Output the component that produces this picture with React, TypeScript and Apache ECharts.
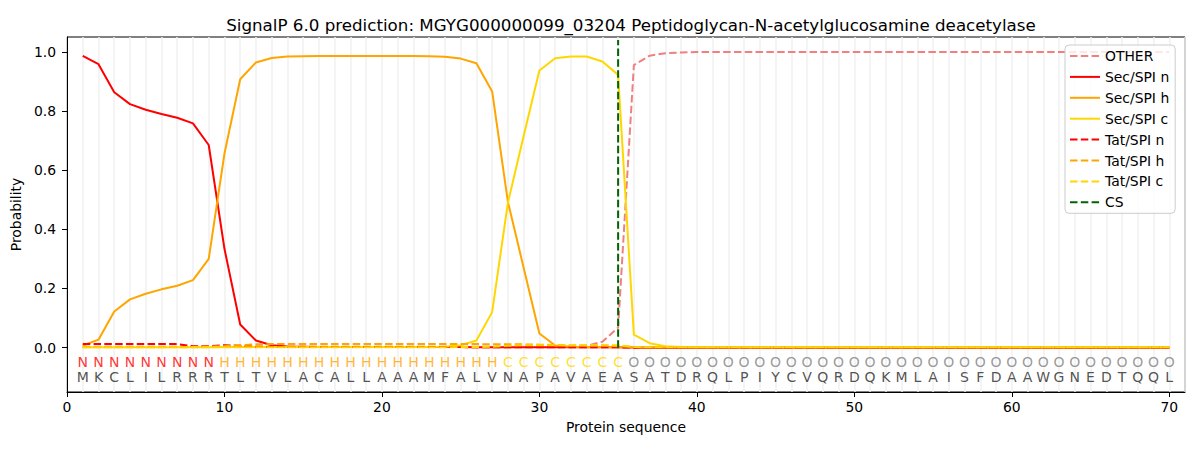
import { useEffect, useRef } from "react";
import * as echarts from "echarts";

const titleText =
  "SignalP 6.0 prediction: MGYG000000099_03204 Peptidoglycan-N-acetylglucosamine deacetylase";

const sequence = "MKCLILRRRTLTVLACALLAAAMFALVNAPAVAEASATDRQLPIYCVQRDQKMLAISFDAAWGNEDTQQL".split("");
const regionLabels = "NNNNNNNNNHHHHHHHHHHHHHHHHHHCCCCCCCCOOOOOOOOOOOOOOOOOOOOOOOOOOOOOOOOOOO".split("");

const other = [
  0.003, 0.003, 0.003, 0.003, 0.003, 0.003, 0.003, 0.003, 0.003, 0.003,
  0.003, 0.003, 0.003, 0.003, 0.003, 0.003, 0.003, 0.003, 0.003, 0.003,
  0.003, 0.003, 0.003, 0.003, 0.003, 0.003, 0.003, 0.003, 0.003, 0.003,
  0.003, 0.003, 0.006, 0.02, 0.068, 0.955, 0.987, 0.995, 0.998, 0.999,
  0.999, 0.999, 0.999, 0.999, 0.999, 0.999, 0.999, 0.999, 0.999, 0.999,
  0.999, 0.999, 0.999, 0.999, 0.999, 0.999, 0.999, 0.999, 0.999, 0.999,
  0.999, 0.999, 0.999, 0.999, 0.999, 0.999, 0.999, 0.999, 0.999, 0.999,
];
const secN = [
  0.986, 0.958, 0.863, 0.823, 0.804, 0.79, 0.777, 0.758, 0.685, 0.334,
  0.078, 0.024, 0.008, 0.004, 0.003, 0.002, 0.002, 0.002, 0.002, 0.002,
  0.002, 0.002, 0.002, 0.002, 0.002, 0.001, 0.001, 0.001, 0.001, 0.001,
  0.001, 0.001, 0.001, 0.001, 0.001, 0.0, 0.0, 0.0, 0.0, 0.0,
  0.0, 0.0, 0.0, 0.0, 0.0, 0.0, 0.0, 0.0, 0.0, 0.0,
  0.0, 0.0, 0.0, 0.0, 0.0, 0.0, 0.0, 0.0, 0.0, 0.0,
  0.0, 0.0, 0.0, 0.0, 0.0, 0.0, 0.0, 0.0, 0.0, 0.0,
];
const secH = [
  0.007, 0.027, 0.122, 0.163, 0.182, 0.197, 0.209, 0.228, 0.3, 0.656,
  0.907, 0.964, 0.979, 0.984, 0.985, 0.986, 0.986, 0.986, 0.986, 0.986,
  0.986, 0.986, 0.985, 0.983, 0.977, 0.961, 0.866, 0.493, 0.27, 0.048,
  0.007, 0.003, 0.002, 0.002, 0.001, 0.001, 0.001, 0.001, 0.001, 0.001,
  0.001, 0.001, 0.001, 0.001, 0.001, 0.001, 0.001, 0.001, 0.001, 0.001,
  0.001, 0.001, 0.001, 0.001, 0.001, 0.001, 0.001, 0.001, 0.001, 0.001,
  0.001, 0.001, 0.001, 0.001, 0.001, 0.001, 0.001, 0.001, 0.001, 0.001,
];
const secC = [
  0.001, 0.001, 0.001, 0.001, 0.001, 0.001, 0.001, 0.001, 0.001, 0.002,
  0.002, 0.002, 0.002, 0.002, 0.002, 0.002, 0.002, 0.002, 0.002, 0.002,
  0.002, 0.002, 0.002, 0.003, 0.008, 0.024, 0.12, 0.49, 0.715, 0.937,
  0.978, 0.984, 0.984, 0.967, 0.922, 0.044, 0.015, 0.005, 0.002, 0.001,
  0.001, 0.001, 0.001, 0.001, 0.001, 0.001, 0.001, 0.001, 0.001, 0.001,
  0.001, 0.001, 0.001, 0.001, 0.001, 0.001, 0.001, 0.001, 0.001, 0.001,
  0.001, 0.001, 0.001, 0.001, 0.001, 0.001, 0.001, 0.001, 0.001, 0.001,
];
const tatN = [
  0.012, 0.012, 0.012, 0.012, 0.012, 0.012, 0.012, 0.005, 0.005, 0.008,
  0.006, 0.003, 0.002, 0.002, 0.002, 0.002, 0.002, 0.002, 0.002, 0.002,
  0.002, 0.002, 0.002, 0.002, 0.002, 0.001, 0.001, 0.001, 0.001, 0.001,
  0.001, 0.001, 0.001, 0.001, 0.001, 0.0, 0.0, 0.0, 0.0, 0.0,
  0.0, 0.0, 0.0, 0.0, 0.0, 0.0, 0.0, 0.0, 0.0, 0.0,
  0.0, 0.0, 0.0, 0.0, 0.0, 0.0, 0.0, 0.0, 0.0, 0.0,
  0.0, 0.0, 0.0, 0.0, 0.0, 0.0, 0.0, 0.0, 0.0, 0.0,
];
const tatH = [
  0.002, 0.002, 0.002, 0.002, 0.002, 0.002, 0.002, 0.002, 0.003, 0.005,
  0.008, 0.011, 0.012, 0.012, 0.012, 0.012, 0.012, 0.012, 0.012, 0.012,
  0.012, 0.012, 0.012, 0.012, 0.012, 0.012, 0.011, 0.011, 0.011, 0.01,
  0.009, 0.007, 0.007, 0.007, 0.005, 0.002, 0.001, 0.001, 0.001, 0.001,
  0.001, 0.001, 0.001, 0.001, 0.001, 0.001, 0.001, 0.001, 0.001, 0.001,
  0.001, 0.001, 0.001, 0.001, 0.001, 0.001, 0.001, 0.001, 0.001, 0.001,
  0.001, 0.001, 0.001, 0.001, 0.001, 0.001, 0.001, 0.001, 0.001, 0.001,
];
const tatC = [
  0.001, 0.001, 0.001, 0.001, 0.001, 0.001, 0.001, 0.001, 0.001, 0.001,
  0.001, 0.001, 0.001, 0.001, 0.001, 0.001, 0.001, 0.001, 0.001, 0.001,
  0.001, 0.001, 0.001, 0.001, 0.002, 0.002, 0.003, 0.006, 0.008, 0.008,
  0.008, 0.008, 0.008, 0.008, 0.008, 0.002, 0.001, 0.001, 0.001, 0.001,
  0.001, 0.001, 0.001, 0.001, 0.001, 0.001, 0.001, 0.001, 0.001, 0.001,
  0.001, 0.001, 0.001, 0.001, 0.001, 0.001, 0.001, 0.001, 0.001, 0.001,
  0.001, 0.001, 0.001, 0.001, 0.001, 0.001, 0.001, 0.001, 0.001, 0.001,
];
const csPosition = 35;
const csTop = 1.04;

const xTicks = [0, 10, 20, 30, 40, 50, 60, 70];
const yTicks = [0, 0.2, 0.4, 0.6, 0.8, 1.0];

const FONT = "DejaVu Sans";
const DASH = [7.5, 3.3];

const labelColors: Record<string, string> = {
  N: "#ff0000",
  H: "#ffa500",
  C: "#ffd700",
  O: "#808080",
};

function toPoints(values: number[]) {
  return values.map((v, i) => [i + 1, v]);
}

export default function App() {
  const ref = useRef<HTMLDivElement>(null);

  useEffect(() => {
    document.body.style.margin = "0";
    if (!ref.current) return;
    const chart = echarts.init(ref.current, undefined, { renderer: "svg" });

    const lineSeries = (
      name: string,
      values: number[],
      color: string,
      dashed: boolean
    ) => ({
      name,
      type: "line",
      data: toPoints(values),
      symbol: "none",
      showSymbol: false,
      xAxisIndex: 0,
      yAxisIndex: 0,
      color,
      lineStyle: { color, width: 2, type: dashed ? DASH : "solid" },
      itemStyle: { color },
      z: 3,
    });

    const textSeries = (letters: string[], y: number, colorFn: (l: string) => string) => ({
      type: "scatter",
      name: "_letters" + y,
      xAxisIndex: 0,
      yAxisIndex: 0,
      symbolSize: 1,
      itemStyle: { color: "rgba(0,0,0,0)" },
      silent: true,
      z: 4,
      data: letters.map((l, i) => ({
        value: [i + 1, y, l],
        label: { color: colorFn(l) },
      })),
      label: {
        show: true,
        position: "inside",
        fontFamily: FONT,
        fontSize: 14,
        formatter: (p: any) => p.data.value[2],
      },
    });

    const option: any = {
      animation: false,
      backgroundColor: "#ffffff",
      textStyle: { fontFamily: FONT },
      title: {
        text: titleText,
        left: 626,
        top: 11,
        textAlign: "center",
        textStyle: {
          fontFamily: FONT,
          fontSize: 16.7,
          fontWeight: "normal",
          color: "#000",
        },
      },
      grid: {
        left: 67,
        right: 15,
        top: 37,
        bottom: 58,
        show: true,
        borderColor: "#000",
        borderWidth: 1,
        backgroundColor: "transparent",
      },
      legend: {
        orient: "vertical",
        left: 1065,
        top: 45,
        data: [
          "OTHER",
          "Sec/SPI n",
          "Sec/SPI h",
          "Sec/SPI c",
          "Tat/SPI n",
          "Tat/SPI h",
          "Tat/SPI c",
          "CS",
        ],
        itemWidth: 30,
        itemHeight: 14,
        itemGap: 6.9,
        itemStyle: { opacity: 0 },
        padding: [4, 6, 4, 4],
        backgroundColor: "rgba(255,255,255,0.8)",
        borderColor: "#cccccc",
        borderWidth: 1,
        borderRadius: 4,
        textStyle: { fontFamily: FONT, fontSize: 13.9, color: "#000" },
      },
      xAxis: [
        {
          type: "value",
          min: 0,
          max: 71,
          name: "Protein sequence",
          nameLocation: "middle",
          nameGap: 28,
          nameTextStyle: { fontFamily: FONT, fontSize: 13.9, color: "#000" },
          axisLine: { show: true, onZero: false, lineStyle: { color: "#000", width: 1 } },
          axisTick: {
            show: true,
            length: 5,
            lineStyle: { color: "#000" },
            customValues: xTicks,
          },
          axisLabel: {
            show: true,
            margin: 8,
            fontFamily: FONT,
            fontSize: 13.9,
            color: "#000",
            customValues: xTicks,
          },
          splitLine: { show: false },
        },
        {
          type: "value",
          min: 0,
          max: 71,
          interval: 1,
          position: "bottom",
          axisLine: { show: false, onZero: false },
          axisTick: { show: false },
          axisLabel: { show: false },
          splitLine: { show: true, lineStyle: { color: "#f0f0f0", width: 1.5 } },
        },
      ],
      yAxis: {
        type: "value",
        min: -0.15,
        max: 1.05,
        name: "Probability",
        nameLocation: "middle",
        nameGap: 38,
        nameTextStyle: { fontFamily: FONT, fontSize: 13.9, color: "#000" },
        axisLine: { show: true, onZero: false, lineStyle: { color: "#000", width: 1 } },
        axisTick: {
          show: true,
          length: 5,
          lineStyle: { color: "#000" },
          customValues: yTicks,
        },
        axisLabel: {
          show: true,
          margin: 11,
          fontFamily: FONT,
          fontSize: 13.9,
          color: "#000",
          customValues: yTicks,
          formatter: (v: number) => v.toFixed(1),
        },
        splitLine: { show: false },
      },
      series: [
        lineSeries("OTHER", other, "#f08080", true),
        lineSeries("Sec/SPI n", secN, "#ff0000", false),
        lineSeries("Sec/SPI h", secH, "#ffa500", false),
        lineSeries("Sec/SPI c", secC, "#ffd700", false),
        lineSeries("Tat/SPI n", tatN, "#ff0000", true),
        lineSeries("Tat/SPI h", tatH, "#ffa500", true),
        lineSeries("Tat/SPI c", tatC, "#ffd700", true),
        {
          name: "CS",
          type: "line",
          data: [
            [csPosition, 0],
            [csPosition, csTop],
          ],
          symbol: "none",
          showSymbol: false,
          color: "#006400",
          lineStyle: { color: "#006400", width: 2, type: DASH },
          z: 5,
        },
        textSeries(regionLabels, -0.05, (l) => labelColors[l]),
        textSeries(sequence, -0.1, () => "#262626"),
      ],
    };

    chart.setOption(option);
    return () => chart.dispose();
  }, []);

  return <div ref={ref} style={{ width: 1200, height: 450 }} />;
}
